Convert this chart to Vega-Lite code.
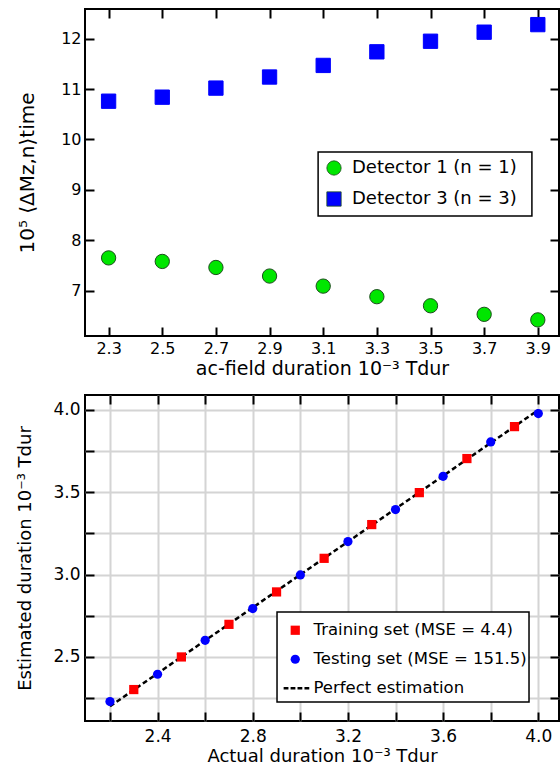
{
  "$schema": "https://vega.github.io/schema/vega-lite/v6.json",
  "padding": {"left": 15, "top": 7, "right": 1, "bottom": 2},
  "spacing": 14,
  "resolve": {"scale": {"color": "independent", "shape": "independent"}, "legend": {"color": "independent", "shape": "independent"}},
  "config": {
    "font": "DejaVu Sans",
    "view": {"stroke": "black", "strokeWidth": 2},
    "axis": {
      "domain": false,
      "tickColor": "black",
      "tickWidth": 2,
      "labelFontSize": 16,
      "labelColor": "black",
      "titleColor": "black",
      "titleFontWeight": "normal"
    },
    "legend": {"labelColor": "black", "labelFont": "DejaVu Sans", "labelLimit": 400}
  },
  "datasets": {
    "a": [
      {"duration": 2.3, "m": 7.65, "detector": "Detector 1 (n = 1)"},
      {"duration": 2.5, "m": 7.58, "detector": "Detector 1 (n = 1)"},
      {"duration": 2.7, "m": 7.46, "detector": "Detector 1 (n = 1)"},
      {"duration": 2.9, "m": 7.29, "detector": "Detector 1 (n = 1)"},
      {"duration": 3.1, "m": 7.09, "detector": "Detector 1 (n = 1)"},
      {"duration": 3.3, "m": 6.88, "detector": "Detector 1 (n = 1)"},
      {"duration": 3.5, "m": 6.70, "detector": "Detector 1 (n = 1)"},
      {"duration": 3.7, "m": 6.53, "detector": "Detector 1 (n = 1)"},
      {"duration": 3.9, "m": 6.42, "detector": "Detector 1 (n = 1)"},
      {"duration": 2.3, "m": 10.76, "detector": "Detector 3 (n = 3)"},
      {"duration": 2.5, "m": 10.84, "detector": "Detector 3 (n = 3)"},
      {"duration": 2.7, "m": 11.02, "detector": "Detector 3 (n = 3)"},
      {"duration": 2.9, "m": 11.24, "detector": "Detector 3 (n = 3)"},
      {"duration": 3.1, "m": 11.47, "detector": "Detector 3 (n = 3)"},
      {"duration": 3.3, "m": 11.74, "detector": "Detector 3 (n = 3)"},
      {"duration": 3.5, "m": 11.95, "detector": "Detector 3 (n = 3)"},
      {"duration": 3.7, "m": 12.13, "detector": "Detector 3 (n = 3)"},
      {"duration": 3.9, "m": 12.28, "detector": "Detector 3 (n = 3)"}
    ],
    "b": [
      {"actual": 2.3, "estimated": 2.302, "set": "Training set (MSE = 4.4)"},
      {"actual": 2.5, "estimated": 2.5, "set": "Training set (MSE = 4.4)"},
      {"actual": 2.7, "estimated": 2.698, "set": "Training set (MSE = 4.4)"},
      {"actual": 2.9, "estimated": 2.895, "set": "Training set (MSE = 4.4)"},
      {"actual": 3.1, "estimated": 3.099, "set": "Training set (MSE = 4.4)"},
      {"actual": 3.3, "estimated": 3.304, "set": "Training set (MSE = 4.4)"},
      {"actual": 3.5, "estimated": 3.498, "set": "Training set (MSE = 4.4)"},
      {"actual": 3.7, "estimated": 3.705, "set": "Training set (MSE = 4.4)"},
      {"actual": 3.9, "estimated": 3.899, "set": "Training set (MSE = 4.4)"},
      {"actual": 2.2, "estimated": 2.229, "set": "Testing set (MSE = 151.5)"},
      {"actual": 2.4, "estimated": 2.395, "set": "Testing set (MSE = 151.5)"},
      {"actual": 2.6, "estimated": 2.601, "set": "Testing set (MSE = 151.5)"},
      {"actual": 2.8, "estimated": 2.794, "set": "Testing set (MSE = 151.5)"},
      {"actual": 3.0, "estimated": 2.998, "set": "Testing set (MSE = 151.5)"},
      {"actual": 3.2, "estimated": 3.201, "set": "Testing set (MSE = 151.5)"},
      {"actual": 3.4, "estimated": 3.395, "set": "Testing set (MSE = 151.5)"},
      {"actual": 3.6, "estimated": 3.597, "set": "Testing set (MSE = 151.5)"},
      {"actual": 3.8, "estimated": 3.806, "set": "Testing set (MSE = 151.5)"},
      {"actual": 4.0, "estimated": 3.978, "set": "Testing set (MSE = 151.5)"}
    ],
    "perfect": [
      {"actual": 2.2, "estimated": 2.2},
      {"actual": 4.0, "estimated": 4.0}
    ],
    "boxa": [
      {"x1": 3.081, "x2": 3.878, "y1": 9.752, "y2": 8.481}
    ],
    "boxb": [
      {"x1": 2.902, "x2": 3.961, "y1": 2.773, "y2": 2.226}
    ]
  },
  "vconcat": [
    {
      "width": 474,
      "height": 327,
      "layer": [
        {
          "data": {"name": "boxa"},
          "mark": {"type": "rect", "fill": "white", "stroke": "black", "strokeWidth": 1.5},
          "encoding": {
            "x": {"field": "x1", "type": "quantitative", "axis": null},
            "x2": {"field": "x2"},
            "y": {"field": "y1", "type": "quantitative", "axis": null},
            "y2": {"field": "y2"}
          }
        },
        {
          "data": {"name": "a"},
          "mark": {"type": "point", "filled": true, "opacity": 1, "size": 205, "strokeWidth": 1},
          "encoding": {
            "x": {
              "field": "duration", "type": "quantitative",
              "scale": {"domain": [2.212, 3.979], "nice": false, "zero": false},
              "axis": {
                "orient": "bottom", "grid": false, "ticks": false, "labelPadding": 4,
                "values": [2.3, 2.5, 2.7, 2.9, 3.1, 3.3, 3.5, 3.7, 3.9], "format": ".1f",
                "title": "ac-field duration 10⁻³ Tdur", "titleFontSize": 19, "titlePadding": 3
              }
            },
            "y": {
              "field": "m", "type": "quantitative",
              "scale": {"domain": [6.1, 12.59], "nice": false, "zero": false},
              "axis": {
                "orient": "left", "grid": false, "ticks": false, "labelPadding": 4,
                "values": [7, 8, 9, 10, 11, 12],
                "title": "10⁵ ⟨ΔMz,n⟩time", "titleFontSize": 20, "titlePadding": 23
              }
            },
            "color": {
              "field": "detector", "type": "nominal",
              "scale": {"domain": ["Detector 1 (n = 1)", "Detector 3 (n = 3)"], "range": ["#00e600", "#0000ff"]},
              "legend": {
                "orient": "none", "legendX": 233, "legendY": 143, "zindex": 2,
                "title": null,
                "padding": 7, "labelFontSize": 18, "symbolSize": 205,
                "rowPadding": 13, "labelOffset": 9,
                "symbolStrokeColor": "#1d4d1d", "symbolStrokeWidth": 0.8
              }
            },
            "shape": {
              "field": "detector", "type": "nominal",
              "scale": {"domain": ["Detector 1 (n = 1)", "Detector 3 (n = 3)"], "range": ["circle", "square"]}
            },
            "stroke": {
              "condition": {"test": "datum.detector === 'Detector 1 (n = 1)'", "value": "#1d4d1d"},
              "value": "#0000ff"
            }
          }
        },
        {
          "mark": {"type": "text", "fontSize": 21, "fontWeight": "bold", "color": "black", "align": "center", "baseline": "middle"},
          "encoding": {
            "x": {
              "datum": 2.372, "type": "quantitative",
              "axis": {"orient": "top", "grid": false, "labels": false, "title": null, "tickSize": -9,
                       "values": [2.3, 2.5, 2.7, 2.9, 3.1, 3.3, 3.5, 3.7, 3.9]}
            },
            "y": {
              "datum": 12.04, "type": "quantitative",
              "axis": {"orient": "right", "grid": false, "labels": false, "title": null, "tickSize": -9,
                       "values": [7, 8, 9, 10, 11, 12]}
            },
            "text": {"value": "(a)"}
          }
        },
        {
          "mark": {"type": "text", "fontSize": 1},
          "encoding": {
            "x": {
              "datum": 2.372, "type": "quantitative",
              "axis": {"orient": "bottom", "grid": false, "labels": false, "title": null, "tickSize": -9,
                       "values": [2.3, 2.5, 2.7, 2.9, 3.1, 3.3, 3.5, 3.7, 3.9]}
            },
            "y": {
              "datum": 12.04, "type": "quantitative",
              "axis": {"orient": "left", "grid": false, "labels": false, "title": null, "tickSize": -9,
                       "values": [7, 8, 9, 10, 11, 12]}
            },
            "text": {"value": ""}
          }
        }
      ],
      "resolve": {"axis": {"x": "independent", "y": "independent"}}
    },
    {
      "width": 474,
      "height": 326,
      "layer": [
        {
          "data": {"name": "perfect"},
          "mark": {"type": "line", "color": "black", "strokeWidth": 2.5, "strokeDash": [5, 3]},
          "encoding": {
            "x": {
              "field": "actual", "type": "quantitative",
              "scale": {"domain": [2.095, 4.087], "nice": false, "zero": false},
              "axis": {
                "orient": "bottom", "grid": true, "gridColor": "#d4d4d4", "gridWidth": 2, "ticks": false,
                "labelPadding": 7, "labelFontSize": 17,
                "values": [2.2, 2.4, 2.6, 2.8, 3.0, 3.2, 3.4, 3.6, 3.8, 4.0], "format": ".1f",
                "labelExpr": "indexof(['2.4','2.8','3.2','3.6','4.0'], datum.label) >= 0 ? datum.label : ''",
                "title": "Actual duration 10⁻³ Tdur", "titleFontSize": 18, "titlePadding": 3
              }
            },
            "y": {
              "field": "estimated", "type": "quantitative",
              "scale": {"domain": [2.111, 4.091], "nice": false, "zero": false},
              "axis": {
                "orient": "left", "grid": true, "gridColor": "#d4d4d4", "gridWidth": 2, "ticks": false,
                "labelPadding": 5, "labelFontSize": 17,
                "values": [2.25, 2.5, 2.75, 3.0, 3.25, 3.5, 3.75, 4.0], "format": ".2f",
                "labelExpr": "indexof(['2.50','3.00','3.50','4.00'], datum.label) >= 0 ? format(datum.value, '.1f') : ''",
                "title": "Estimated duration  10⁻³ Tdur", "titleFontSize": 18, "titlePadding": 18
              }
            }
          }
        },
        {
          "data": {"name": "boxb"},
          "mark": {"type": "rect", "fill": "white", "stroke": "black", "strokeWidth": 1.5},
          "encoding": {
            "x": {"field": "x1", "type": "quantitative", "axis": null},
            "x2": {"field": "x2"},
            "y": {"field": "y1", "type": "quantitative", "axis": null},
            "y2": {"field": "y2"}
          }
        },
        {
          "data": {"name": "b"},
          "mark": {"type": "point", "filled": true, "opacity": 1, "size": 85},
          "encoding": {
            "x": {
              "field": "actual", "type": "quantitative",
              "axis": {"orient": "bottom", "grid": false, "labels": false, "title": null, "tickSize": -9,
                       "values": [2.2, 2.4, 2.6, 2.8, 3.0, 3.2, 3.4, 3.6, 3.8, 4.0]}
            },
            "y": {
              "field": "estimated", "type": "quantitative",
              "axis": {"orient": "left", "grid": false, "labels": false, "title": null, "tickSize": -9,
                       "values": [2.25, 2.5, 2.75, 3.0, 3.25, 3.5, 3.75, 4.0]}
            },
            "color": {
              "field": "set", "type": "nominal",
              "scale": {"domain": ["Training set (MSE = 4.4)", "Testing set (MSE = 151.5)", "Perfect estimation"], "range": ["#ff0000", "#0000ff", "black"]},
              "legend": {
                "orient": "none", "legendX": 192, "legendY": 217, "zindex": 2,
                "title": null,
                "padding": 10, "labelFontSize": 16.5, "symbolSize": 85,
                "rowPadding": 12, "labelOffset": 10, "symbolStrokeWidth": 0
              }
            },
            "shape": {
              "field": "set", "type": "nominal",
              "scale": {"domain": ["Training set (MSE = 4.4)", "Testing set (MSE = 151.5)", "Perfect estimation"], "range": ["square", "circle", "M-2.52,-0.27H-1.48V0.27H-2.52Z M-1.01,-0.27H0.03V0.27H-1.01Z M0.49,-0.27H1.53V0.27H0.49Z M2.0,-0.27H3.04V0.27H2.0Z"]}
            }
          }
        },
        {
          "mark": {"type": "text", "fontSize": 21, "fontWeight": "bold", "color": "black", "align": "center", "baseline": "middle"},
          "encoding": {
            "x": {
              "datum": 2.284, "type": "quantitative",
              "axis": {"orient": "top", "grid": false, "labels": false, "title": null, "tickSize": -9,
                       "values": [2.2, 2.4, 2.6, 2.8, 3.0, 3.2, 3.4, 3.6, 3.8, 4.0]}
            },
            "y": {
              "datum": 3.872, "type": "quantitative",
              "axis": {"orient": "right", "grid": false, "labels": false, "title": null, "tickSize": -9,
                       "values": [2.25, 2.5, 2.75, 3.0, 3.25, 3.5, 3.75, 4.0]}
            },
            "text": {"value": "(b)"}
          }
        }
      ],
      "resolve": {"axis": {"x": "independent", "y": "independent"}}
    }
  ]
}
